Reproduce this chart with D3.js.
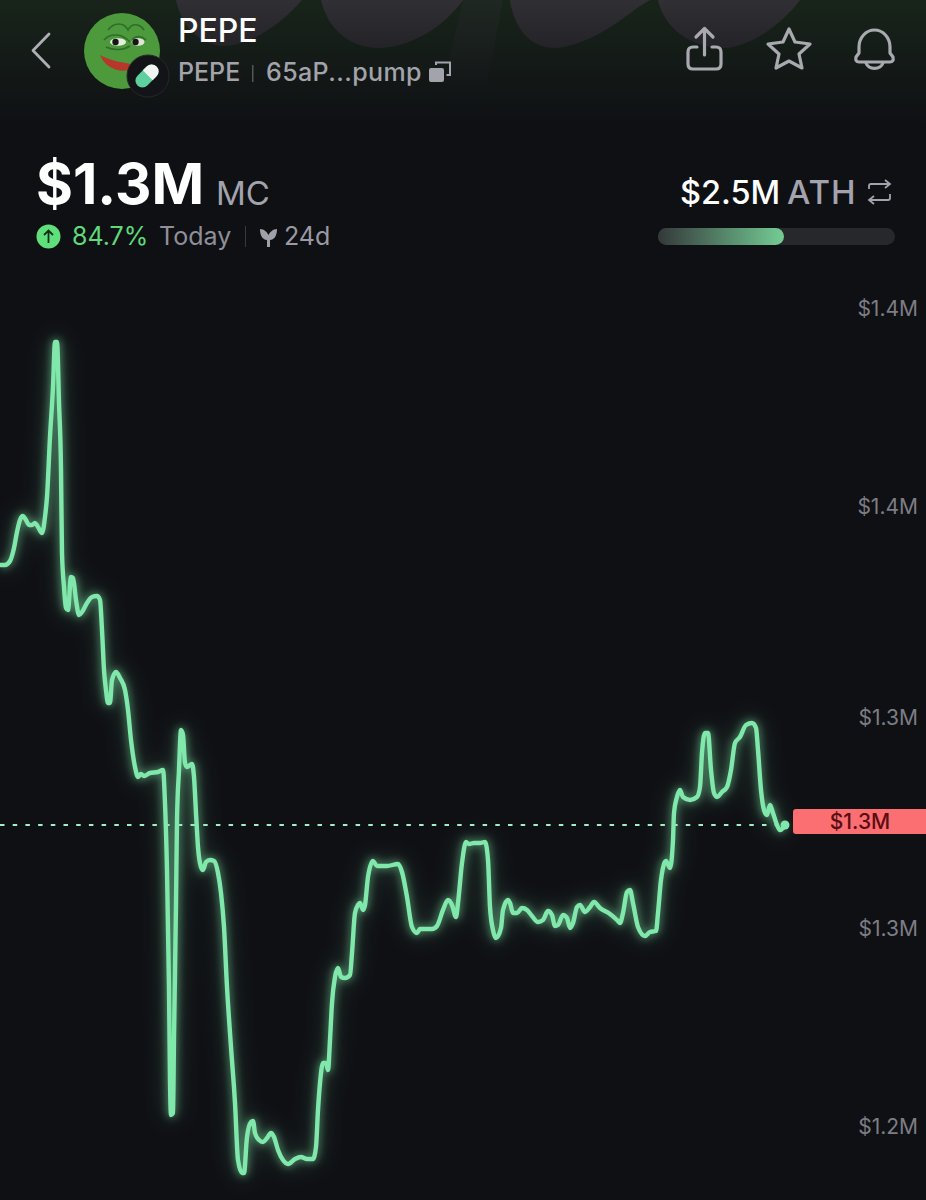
<!DOCTYPE html>
<html>
<head>
<meta charset="utf-8">
<script src="https://cdn.jsdelivr.net/npm/d3@7"></script>
<style>
html, body { margin: 0; padding: 0; background: #0f1014; }
svg { display: block; font-family: Inter, "Liberation Sans", sans-serif; }
</style>
</head>
<body>
<svg id="chart" width="926" height="1200"></svg>
<script>
// elapsed time steps along the x axis
var steps = [0,5,10,14,17,20,23,26,29,32,35,38,42,45,47,50,53,55,57,59,61,62,64,66,68,71,73,76,79,82,87,92,97,100,102,104,106,108,110,112,116,120,125,128,131,135,138,141,144,150,158,163,165,167,169,170,171,173,174,176,177,179,181,183,185,187,192,194,196,198,201,203,206,210,214,218,221,224,227,231,235,238,242,244,247,251,253,255,259,263,267,271,274,278,283,288,295,301,307,313,316,318,320,323,326,328,330,332,335,338,341,345,350,352,355,358,360,363,365,368,373,377,387,398,402,407,412,417,420,432,437,443,448,452,456,458,462,466,469,474,480,485,488,490,493,496,501,503,508,510,513,517,522,527,532,538,543,548,552,555,558,563,567,570,573,577,580,585,590,594,600,610,617,620,623,627,630,633,638,645,650,656,658,661,666,670,673,674,677,680,683,690,697,700,702,705,708,711,714,717,722,727,731,735,740,746,752,756,758,761,764,767,770,773,777,780,783,785];

// market cap in $K at each step
var marketCap = [1340.25,1340.25,1341.25,1344.5,1348.5,1351.5,1352.5,1351.5,1350.25,1350.25,1350.75,1349.75,1348.25,1352.25,1357.25,1372.25,1384.75,1396,1396,1380.75,1364,1343.25,1334.75,1329.5,1329,1337.25,1337,1331.5,1327.75,1328.5,1330.75,1332.25,1332.5,1331.5,1324,1314,1309,1305.75,1305.75,1311.5,1313.5,1312,1309,1304,1296.5,1289.75,1287.25,1288,1287.5,1288.25,1288.5,1289,1280.75,1264,1234.75,1211.5,1202.75,1203.25,1222.25,1255.75,1276.5,1289,1299,1297.75,1290.75,1289.75,1290.5,1287.25,1278.25,1269.75,1264.75,1264,1266,1266.5,1266.25,1263.25,1258.25,1249.75,1234.75,1219.75,1205.75,1191.5,1188.25,1188.25,1197.25,1201,1201.25,1198.25,1196.5,1196,1197,1198.25,1197.25,1194,1191.5,1190.5,1191.75,1192.25,1191.75,1191.75,1194.75,1204,1210.75,1215.75,1215.75,1214,1221.5,1230.75,1237.25,1239.5,1237.25,1237,1237.75,1243.25,1253.25,1255.25,1255.75,1254,1255.25,1262.25,1266.25,1265,1265,1265.5,1263.5,1257.25,1249.75,1248.25,1249.25,1249.25,1250,1254,1256.5,1255.25,1252.25,1255.75,1265.75,1271,1270.5,1270.75,1270.75,1271,1266.5,1254.75,1249,1247,1249.5,1254,1256.5,1255.75,1253.25,1253.25,1254.5,1254,1252.5,1251,1251.5,1253.75,1252.75,1250,1250.25,1252.75,1252,1249.5,1250.75,1254.75,1255.25,1253.5,1254.75,1256,1254.5,1253,1251.5,1250.75,1253.25,1258.5,1259,1255.75,1249.75,1247.5,1248.5,1248.75,1253.25,1261.5,1266.25,1264.5,1271.5,1278.25,1282.25,1284,1282.25,1281.5,1282.25,1284.75,1293.25,1298.25,1298.25,1289,1283.25,1282.25,1283.5,1284.75,1289,1295.75,1297.25,1300.25,1300.75,1299.5,1294,1284,1279,1277.75,1280.25,1278.25,1275.25,1274,1274.5,1275.25];

var tickValues = [1404.5, 1355, 1302.25, 1249.5, 1200];
var tickLabels = ["$1.4M", "$1.4M", "$1.3M", "$1.3M", "$1.2M"];

var svg = d3.select("#chart");
var defs = svg.append("defs");

var x = d3.scaleLinear().domain([0, 926]).range([0, 926]);
var y = d3.scaleLinear().domain([1200, 1404.5]).range([1126, 308]);

// header backdrop
var topFade = defs.append("linearGradient").attr("id", "topFade")
	.attr("x1", 0).attr("x2", 0).attr("y1", 0).attr("y2", 1);
topFade.append("stop").attr("offset", 0).attr("stop-color", "#18241a");
topFade.append("stop").attr("offset", 1).attr("stop-color", "#0f1014");

var blobFade = defs.append("linearGradient").attr("id", "blobFade")
	.attr("gradientUnits", "userSpaceOnUse")
	.attr("x1", 0).attr("x2", 0).attr("y1", 0).attr("y2", 105);
blobFade.append("stop").attr("offset", 0).attr("stop-color", "#303034");
blobFade.append("stop").attr("offset", 0.45).attr("stop-color", "#232328");
blobFade.append("stop").attr("offset", 1).attr("stop-color", "#101115");

svg.append("rect").attr("width", 926).attr("height", 1200).attr("fill", "#0f1014");
svg.append("rect").attr("width", 926).attr("height", 125).attr("fill", "url(#topFade)");

var blobs = svg.append("g").attr("fill", "url(#blobFade)");
blobs.append("path").attr("d", "M176,0 C182,28 200,45 225,46 C255,44 285,20 302,0 Z");
blobs.append("path").attr("d", "M321,0 C328,30 350,48 380,48 C415,46 445,25 463,0 Z");
blobs.append("path").attr("d", "M463,0 L503,0 L484,100 L440,100 Z").attr("opacity", 0.3);
blobs.append("path").attr("d", "M510,0 C514,28 530,48 555,48 C585,46 615,25 637,8 L650,0 Z");
blobs.append("path").attr("d", "M658,0 C664,28 690,48 725,48 C755,46 785,20 800,0 Z");

// back arrow
svg.append("path").attr("d", "M49,34 L33,50.5 L49,67")
	.attr("fill", "none").attr("stroke", "#aeaeb4").attr("stroke-width", 2.8)
	.attr("stroke-linecap", "round").attr("stroke-linejoin", "round");

// avatar
var avatar = svg.append("g");
avatar.append("circle").attr("cx", 122).attr("cy", 51).attr("r", 38).attr("fill", "#4c9a3c");
avatar.append("path").attr("d", "M100,55 C112,62 125,62 138,66 C130,72 118,72 110,67 C105,64 102,60 100,55 Z").attr("fill", "#b8372b");
var brows = avatar.append("g").attr("fill", "none").attr("stroke", "#2f6d2a").attr("stroke-width", 1.6);
brows.append("path").attr("d", "M104,40 C110,33 122,33 130,42");
brows.append("path").attr("d", "M132,40 C136,35 142,36 146,40");
brows.append("path").attr("d", "M108,30 C114,22 124,22 128,30 C132,22 140,24 144,30");
brows.append("path").attr("d", "M106,47 C114,51 124,50 130,46");
avatar.append("ellipse").attr("cx", 118).attr("cy", 42).attr("rx", 8).attr("ry", 3.8).attr("fill", "#e8ede0");
avatar.append("ellipse").attr("cx", 138).attr("cy", 42).attr("rx", 6.5).attr("ry", 3.8).attr("fill", "#dfe6d6");
avatar.append("circle").attr("cx", 115.5).attr("cy", 42).attr("r", 3.2).attr("fill", "#161616");
avatar.append("circle").attr("cx", 135.5).attr("cy", 42).attr("r", 3.2).attr("fill", "#161616");
avatar.append("circle").attr("cx", 148).attr("cy", 76).attr("r", 21).attr("fill", "#131417").attr("stroke", "#26272b");
var pill = avatar.append("g").attr("transform", "translate(147,76) rotate(45)");
pill.append("rect").attr("x", -7).attr("y", -13.5).attr("width", 14).attr("height", 27).attr("rx", 7).attr("fill", "#5fd0a0");
pill.append("path").attr("d", "M-7,-1 L-7,-6.5 A7,7 0 0 1 7,-6.5 L7,-1 Z").attr("fill", "#f2f4f2");

// title block
function label(px, py, text, size, fill, weight, anchor) {
	return svg.append("text").attr("x", px).attr("y", py).text(text)
		.attr("font-size", size).attr("fill", fill)
		.attr("font-weight", weight || 400).attr("text-anchor", anchor || "start");
}
label(178, 42, "PEPE", 32, "#ffffff", 500);
label(178, 81, "PEPE", 25, "#a3a3ab", 500);
svg.append("rect").attr("x", 252).attr("y", 65).attr("width", 1.5).attr("height", 17).attr("fill", "#55555b");
label(266, 81, "65aP...pump", 25, "#a3a3ab", 500).attr("letter-spacing", 0.4);
svg.append("rect").attr("x", 429).attr("y", 68).attr("width", 15).attr("height", 14).attr("rx", 2).attr("fill", "#a3a3ab");
svg.append("path").attr("d", "M436,65 L436,62.5 L450,62.5 L450,75 L446.5,75").attr("fill", "none").attr("stroke", "#a3a3ab").attr("stroke-width", 2);

// header icons
var icons = svg.append("g").attr("fill", "none").attr("stroke", "#a9a9b0").attr("stroke-width", 3.2)
	.attr("stroke-linecap", "round").attr("stroke-linejoin", "round");
icons.append("path").attr("d", "M697,47 L693,47 Q688,47 688,52 L688,64 Q688,69 693,69 L716,69 Q721,69 721,64 L721,52 Q721,47 716,47 L712,47");
icons.append("path").attr("d", "M704.5,55 L704.5,29 M696,37 L704.5,28.5 L713,37");
icons.append("path").attr("d", "M789,29 L795,42 L810,44 L799,54 L802,68 L789,61 L776,68 L779,54 L768,44 L783,42 Z");
icons.append("path").attr("d", "M859,53 L859,47 A15.5,17 0 0 1 890,47 L890,53 L893,57 Q894,62 890,62 L859,62 Q855,62 856,57 Z");
icons.append("path").attr("d", "M866,63 A9,8 0 0 0 883,63");

// market cap block
label(36, 204, "$1.3M", 56.5, "#ffffff", 700);
label(216, 205, "MC", 33, "#a3a3ae", 400);
svg.append("circle").attr("cx", 48.5).attr("cy", 236.5).attr("r", 12).attr("fill", "#5fe07a");
svg.append("path").attr("d", "M48.5,243 L48.5,231 M44,235 L48.5,230.5 L53,235")
	.attr("fill", "none").attr("stroke", "#10301a").attr("stroke-width", 1.8);
label(72, 245, "84.7%", 25, "#5fd97a", 400);
label(159, 245, "Today", 25, "#8f8f98", 400);
svg.append("rect").attr("x", 245).attr("y", 226).attr("width", 1).attr("height", 21).attr("fill", "#38383d");
svg.append("path").attr("d", "M267,240 C263,240 260,236 260,229 C264,229 267,232 268.5,235 C270,232 273,229 277,229 C277,236 274,240 270,240 L270,247 L267,247 Z").attr("fill", "#a0a0a8");
label(284, 245, "24d", 25, "#9a9aa2", 400);

// ATH block
label(680, 204, "$2.5M", 32.5, "#ffffff", 500);
label(787, 204, "ATH", 33, "#a3a3ae", 500).attr("letter-spacing", 1);
svg.append("path").attr("d", "M869,189 L869,186 Q869,184 871,184 L890,184 M885,180 L890,184 L885,188 M890,194 L890,198 Q890,200 888,200 L869,200 M874,196 L869,200 L874,204")
	.attr("fill", "none").attr("stroke", "#a3a3ae").attr("stroke-width", 1.8);

var athFill = defs.append("linearGradient").attr("id", "athFill");
athFill.append("stop").attr("offset", 0).attr("stop-color", "#34383a");
athFill.append("stop").attr("offset", 1).attr("stop-color", "#74cc94");
svg.append("rect").attr("x", 658).attr("y", 228).attr("width", 237).attr("height", 17).attr("rx", 8.5).attr("fill", "#27282c");
svg.append("rect").attr("x", 658).attr("y", 228).attr("width", 126).attr("height", 17).attr("rx", 8.5).attr("fill", "url(#athFill)");

// y axis, labels only
var yAxis = svg.append("g")
	.attr("transform", "translate(918,1)")
	.call(d3.axisLeft(y).tickValues(tickValues).tickFormat((d, i) => tickLabels[i]).tickSize(0).tickPadding(0));
yAxis.select(".domain").remove();
yAxis.selectAll("text")
	.attr("font-family", "Inter, sans-serif")
	.attr("font-size", 21)
	.attr("fill", "#7d7d84");

// glow
var glow = defs.append("filter").attr("id", "glow")
	.attr("filterUnits", "userSpaceOnUse")
	.attr("x", 0).attr("y", 250).attr("width", 926).attr("height", 950);
glow.append("feGaussianBlur").attr("stdDeviation", 4);

var glowWide = defs.append("filter").attr("id", "glowWide")
	.attr("filterUnits", "userSpaceOnUse")
	.attr("x", 0).attr("y", 250).attr("width", 926).attr("height", 950);
glowWide.append("feGaussianBlur").attr("stdDeviation", 11);

var points = steps.map((s, i) => [s, marketCap[i]]);
var line = d3.line()
	.x(d => x(d[0]))
	.y(d => y(d[1]))
	.curve(d3.curveMonotoneX);

var last = points[points.length - 1];

// current value line
svg.append("line")
	.attr("x1", 0).attr("x2", x(last[0]) - 8)
	.attr("y1", y(last[1])).attr("y2", y(last[1]))
	.attr("stroke", "#a5eec4").attr("stroke-width", 2)
	.attr("stroke-dasharray", "4.5,8.2");

svg.append("path").datum(points).attr("d", line)
	.attr("fill", "none").attr("stroke", "#7fe8aa").attr("stroke-width", 10).attr("opacity", 0.2)
	.attr("filter", "url(#glowWide)");
svg.append("path").datum(points).attr("d", line)
	.attr("fill", "none").attr("stroke", "#7fe8aa").attr("stroke-width", 6).attr("opacity", 0.55)
	.attr("filter", "url(#glow)");
svg.append("path").datum(points).attr("d", line)
	.attr("fill", "none").attr("stroke", "#80e8ab").attr("stroke-width", 4.4)
	.attr("stroke-linejoin", "round").attr("stroke-linecap", "round");

svg.append("circle")
	.attr("cx", x(last[0])).attr("cy", y(last[1])).attr("r", 4.5)
	.attr("fill", "#80e8ab");

// price tag
svg.append("rect")
	.attr("x", 793).attr("y", y(last[1]) - 16).attr("width", 140).attr("height", 25).attr("rx", 3)
	.attr("fill", "#fb6e72");
label(860, y(last[1]) + 4, "$1.3M", 21, "#5a0d12", 500, "middle");
</script>
</body>
</html>
